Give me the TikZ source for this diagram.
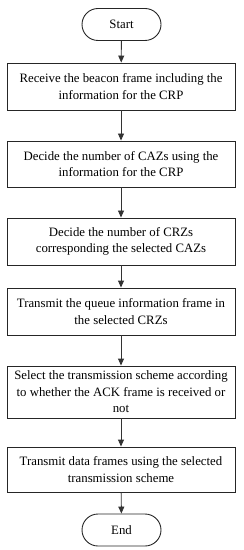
\documentclass[tikz,border=0pt]{standalone}
\usepackage{fontspec}
\setmainfont{Liberation Serif}
\usetikzlibrary{arrows.meta}
\begin{document}
\begin{tikzpicture}[x=1bp,y=-1bp,
  every node/.style={font=\fontsize{12.8bp}{16.6bp}\selectfont, inner sep=0pt, align=center},
  procbox/.style={draw=black!85, line width=0.9bp, minimum width=228bp},
  termbox/.style={draw=black!85, line width=0.9bp, minimum width=79bp, minimum height=32bp, rounded corners=16bp},
  flow/.style={draw=black!80, line width=0.9bp, -{Triangle[width=6bp,length=7bp]}}]
\useasboundingbox (0,0) rectangle (243,550);
\node[termbox] (start) at (121.5,24.5) {Start};
\node[procbox, minimum height=47bp] (b1) at (121,86.5) {Receive the beacon frame including the\\information for the CRP};
\node[procbox, minimum height=46bp] (b2) at (121,164) {Decide the number of CAZs using the\\information for the CRP};
\node[procbox, minimum height=47bp] (b3) at (121,241.5) {Decide the number of CRZs\\corresponding the selected CAZs};
\node[procbox, minimum height=47bp] (b4) at (121,311.5) {Transmit the queue information frame in\\the selected CRZs};
\node[procbox, minimum height=52bp] (b5) at (121,392) {Select the transmission scheme according\\to whether the ACK frame is received or\\not};
\node[procbox, minimum height=45bp] (b6) at (121,469.5) {Transmit data frames using the selected\\transmission scheme};
\node[termbox] (end) at (121.5,530) {End};
\draw[flow] (start) -- (b1);
\draw[flow] (b1) -- (b2);
\draw[flow] (b2) -- (b3);
\draw[flow] (b3) -- (b4);
\draw[flow] (b4) -- (b5);
\draw[flow] (b5) -- (b6);
\draw[flow] (b6) -- (end);
\end{tikzpicture}
\end{document}
